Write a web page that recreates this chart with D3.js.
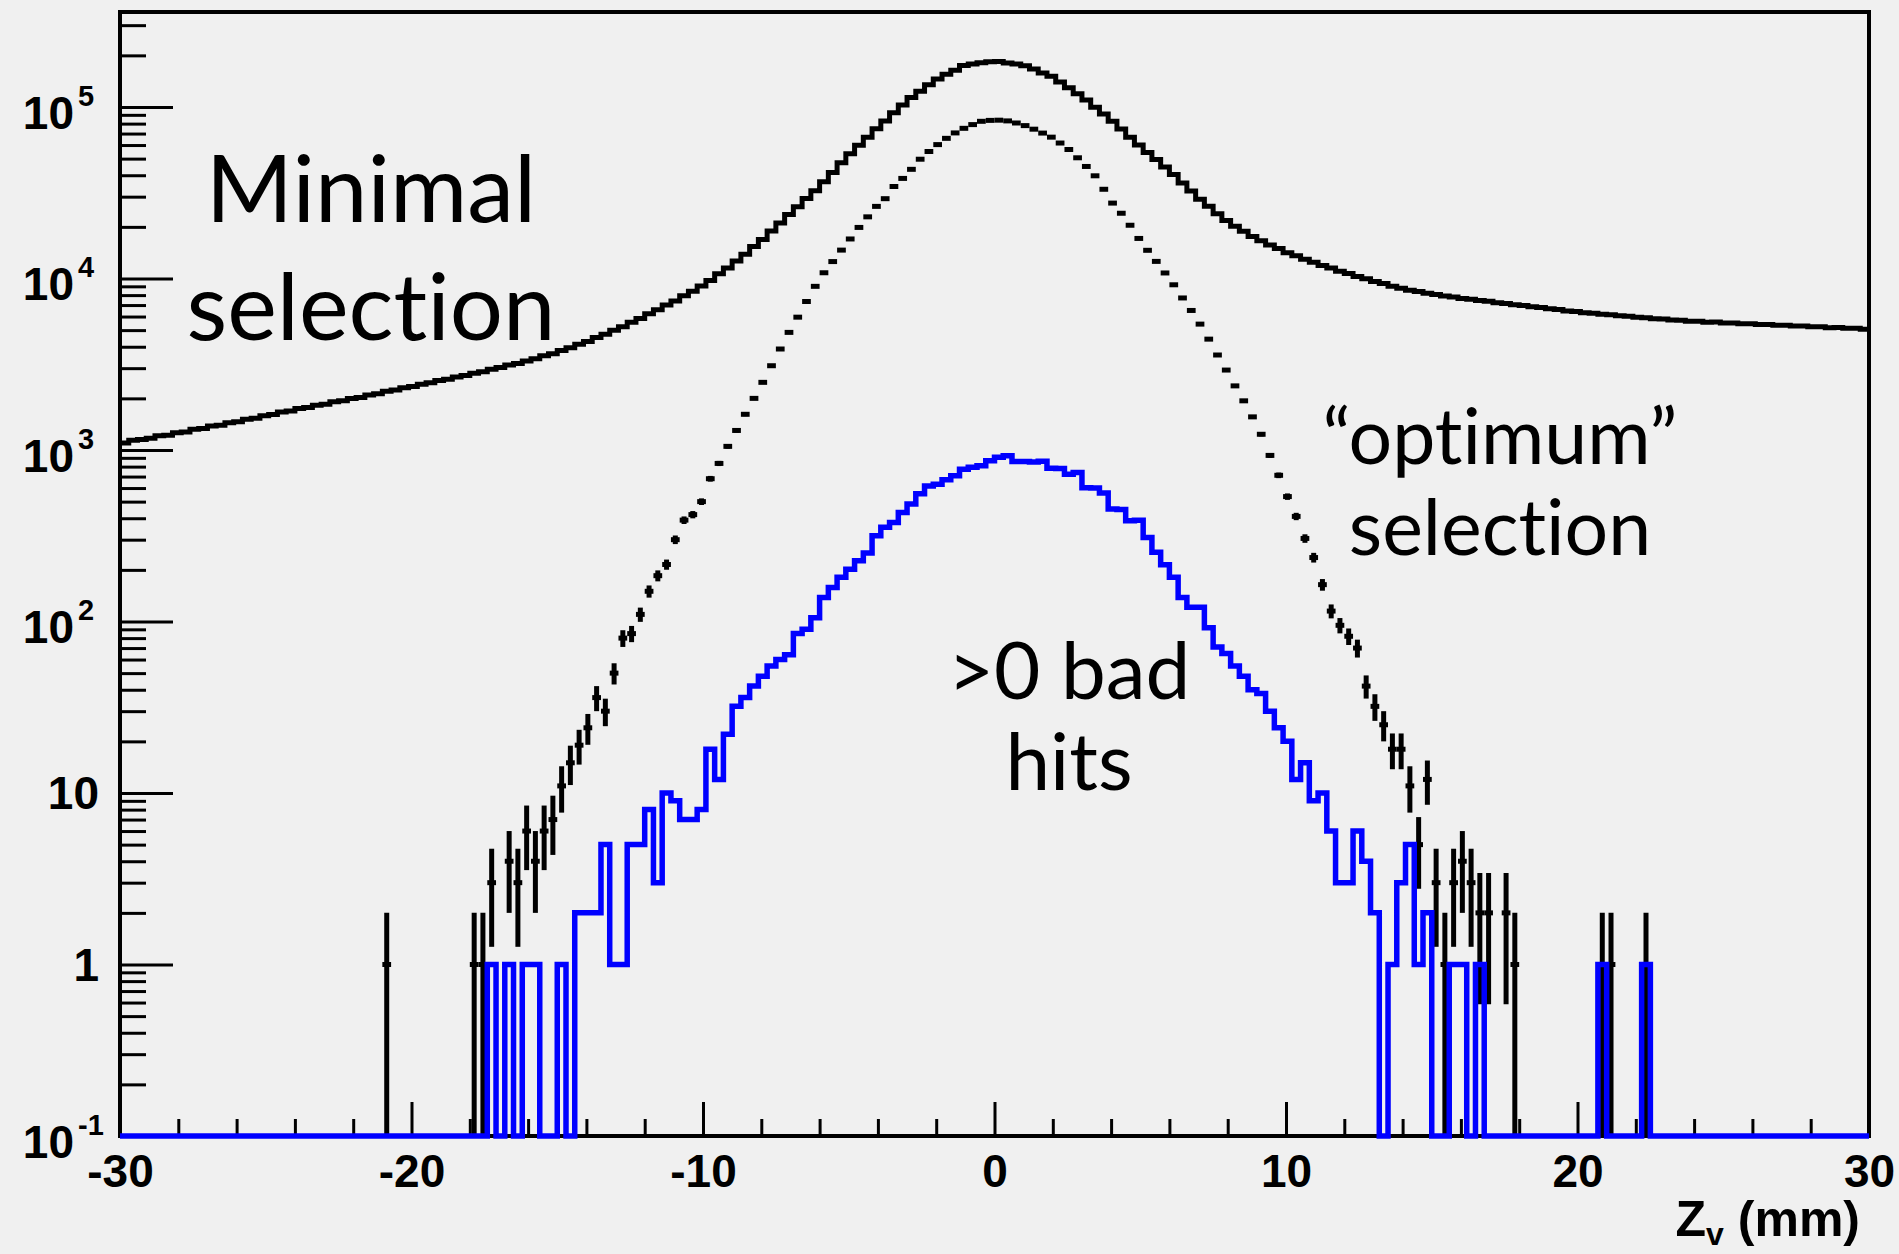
<!DOCTYPE html>
<html>
<head>
<meta charset="utf-8">
<script src="https://cdn.jsdelivr.net/npm/d3@7"></script>
<style>
  html, body { margin: 0; padding: 0; background: #f0f0f0; }
  svg { display: block; }
  .lbl { font-family: "Liberation Sans", Arial, sans-serif; font-weight: bold; fill: #000; }
  .note { font-family: Lato, "Open Sans", sans-serif; fill: #000; font-variant-ligatures: none; font-feature-settings: "liga" 0, "clig" 0; }
  .tick line { stroke: #000; stroke-width: 3; }
</style>
</head>
<body>
<script>
// histogram binning: 200 bins of 0.3 mm between -30 and 30
const zRange = [-30, 30];
const binWidth = 0.3;

// "Minimal selection" (black step line)
const minimalCounts = [
  1100, 1140, 1150, 1170, 1210, 1220, 1260, 1275, 1320, 1335,
  1380, 1395, 1440, 1460, 1510, 1530, 1585, 1610, 1665, 1690,
  1745, 1770, 1825, 1850, 1910, 1935, 1995, 2025, 2095, 2130,
  2200, 2235, 2310, 2345, 2420, 2465, 2540, 2585, 2665, 2715,
  2800, 2860, 2960, 3025, 3130, 3195, 3305, 3400, 3540, 3640,
  3800, 3940, 4130, 4285, 4525, 4730, 4985, 5235, 5560, 5850,
  6220, 6565, 6995, 7395, 7930, 8435, 9045, 9750, 10640, 11510,
  12650, 13870, 15350, 16860, 18930, 21040, 23610, 26170, 29260, 32430,
  36620, 41450, 47280, 53380, 59800, 66580, 74600, 82860, 92580, 102800,
  113550, 123400, 134750, 145800, 155000, 164000, 174300, 178000, 181200, 183700,
  184000, 180800, 178300, 174200, 166400, 158100, 151000, 139900, 129500, 119350,
  109750, 99700, 91080, 82550, 74380, 66620, 60050, 54250, 49400, 44700,
  40420, 36080, 32410, 28990, 26400, 23890, 21770, 20140, 18870, 17550,
  16580, 15690, 14950, 14150, 13590, 12940, 12430, 11890, 11510, 11020,
  10680, 10260, 9970, 9590, 9340, 9010, 8780, 8540, 8400, 8195,
  8070, 7905, 7795, 7640, 7565, 7430, 7360, 7230, 7160, 7030,
  6965, 6840, 6775, 6655, 6590, 6470, 6410, 6315, 6280, 6185,
  6150, 6060, 6025, 5935, 5910, 5830, 5810, 5735, 5710, 5630,
  5625, 5565, 5570, 5505, 5510, 5450, 5455, 5390, 5400, 5335,
  5345, 5280, 5290, 5225, 5235, 5170, 5180, 5120, 5125, 5065
];

// "optimum" selection (black points with error bars)
const optimumCounts = [
  0, 0, 0, 0, 0, 0, 0, 0, 0, 0,
  0, 0, 0, 0, 0, 0, 0, 0, 0, 0,
  0, 0, 0, 0, 0, 0, 0, 0, 0, 0,
  1, 0, 0, 0, 0, 0, 0, 0, 0, 0,
  1, 1, 3, 0, 4, 3, 6, 4, 6, 7,
  11, 15, 19, 24, 36, 30, 50, 80, 85, 110,
  150, 185, 215, 300, 390, 420, 500, 680, 835, 1050,
  1300, 1615, 2000, 2480, 3100, 3880, 4850, 5950, 7340, 9000,
  10800, 12550, 14640, 17000, 19850, 22880, 26330, 29200, 34400, 38330,
  43300, 49600, 55000, 60350, 65650, 70600, 75100, 78950, 82520, 83540,
  83770, 82970, 80660, 77880, 74240, 70450, 66700, 61640, 56510, 50560,
  45000, 39700, 33130, 27520, 24010, 20440, 17120, 14600, 12580, 10770,
  9190, 7700, 6510, 5420, 4430, 3580, 2925, 2365, 1935, 1560,
  1235, 930, 712, 535, 410, 305, 236, 164, 115, 95,
  82, 70, 42, 32, 25, 18, 18, 11, 5, 12,
  3, 1, 3, 4, 3, 2, 2, 0, 2, 1,
  0, 0, 0, 0, 0, 0, 0, 0, 0, 1,
  1, 0, 0, 0, 1, 0, 0, 0, 0, 0,
  0, 0, 0, 0, 0, 0, 0, 0, 0, 0,
  0, 0, 0, 0, 0, 0, 0, 0, 0, 0
];

// ">0 bad hits" (blue step line)
const badHitCounts = [
  0, 0, 0, 0, 0, 0, 0, 0, 0, 0,
  0, 0, 0, 0, 0, 0, 0, 0, 0, 0,
  0, 0, 0, 0, 0, 0, 0, 0, 0, 0,
  0, 0, 0, 0, 0, 0, 0, 0, 0, 0,
  0, 0, 1, 0, 1, 0, 1, 1, 0, 0,
  1, 0, 2, 2, 2, 5, 1, 1, 5, 5,
  8, 3, 10, 9, 7, 7, 8, 18, 12, 22,
  32, 36, 42, 48, 55, 60, 64, 85, 90, 105,
  138, 158, 181, 202, 226, 251, 316, 354, 378, 432,
  484, 556, 617, 631, 670, 708, 773, 794, 809, 865,
  906, 925, 857, 857, 850, 860, 783, 780, 723, 740,
  603, 600, 562, 453, 450, 387, 390, 309, 253, 214,
  181, 138, 121, 121, 92, 71, 65, 55, 48, 40,
  38, 30, 24, 20, 12, 15, 9, 10, 6, 3,
  3, 6, 4, 2, 0, 1, 3, 5, 1, 2,
  0, 0, 1, 1, 0, 1, 0, 0, 0, 0,
  0, 0, 0, 0, 0, 0, 0, 0, 0, 1,
  0, 0, 0, 0, 1, 0, 0, 0, 0, 0,
  0, 0, 0, 0, 0, 0, 0, 0, 0, 0,
  0, 0, 0, 0, 0, 0, 0, 0, 0, 0
];

// axes
const xTickValues = [-30, -20, -10, 0, 10, 20, 30];
const xMinorStep = 2;
const yDecades = [-1, 0, 1, 2, 3, 4, 5];
const yTickLabels = [["10", "-1"], ["1", ""], ["10", ""], ["10", "2"], ["10", "3"], ["10", "4"], ["10", "5"]];
const yMin = 0.1, yMax = 3.58e5;

var w = 1899;
var h = 1254;
const frame = {left: 120, right: 1869, top: 12, bottom: 1136};

const svg = d3.select("body").append("svg")
    .attr("width", w)
    .attr("height", h);

svg.append("rect").attr("width", w).attr("height", h).attr("fill", "#f0f0f0");

const x = d3.scaleLinear().domain(zRange).range([frame.left, frame.right]);
const y = d3.scaleLog().domain([yMin, yMax]).range([frame.bottom, frame.top]);

// frame
svg.append("rect")
    .attr("x", frame.left).attr("y", frame.top)
    .attr("width", frame.right - frame.left)
    .attr("height", frame.bottom - frame.top)
    .attr("fill", "none").attr("stroke", "#000").attr("stroke-width", 4);

// x axis ticks (inward)
const xMajor = svg.append("g")
    .attr("transform", "translate(0," + frame.bottom + ")")
    .call(d3.axisBottom(x).tickValues(xTickValues).tickSize(-34).tickPadding(18)
        .tickFormat(d => String(d)));
xMajor.select(".domain").remove();
xMajor.selectAll("text").attr("class", "lbl").style("font-size", "46px");

const xMinorValues = d3.range(zRange[0], zRange[1] + 0.001, xMinorStep).filter(v => v % 10 !== 0);
const xMinor = svg.append("g")
    .attr("transform", "translate(0," + frame.bottom + ")")
    .call(d3.axisBottom(x).tickValues(xMinorValues).tickSize(-17).tickFormat(""));
xMinor.select(".domain").remove();

// y axis ticks (inward)
const yMajorValues = yDecades.map(k => Math.pow(10, k));
const yMinorValues = [];
yDecades.forEach(k => {
  for (let m = 2; m <= 9; m++) {
    const v = m * Math.pow(10, k);
    if (v <= yMax) yMinorValues.push(v);
  }
});

const yMajor = svg.append("g")
    .attr("transform", "translate(" + frame.left + ",0)")
    .call(d3.axisLeft(y).tickValues(yMajorValues).tickSize(-53).tickFormat(""));
yMajor.select(".domain").remove();
const yMinor = svg.append("g")
    .attr("transform", "translate(" + frame.left + ",0)")
    .call(d3.axisLeft(y).tickValues(yMinorValues).tickSize(-26).tickFormat(""));
yMinor.select(".domain").remove();

// y labels, 10 with superscript exponent
yDecades.forEach((k, i) => {
  const v = Math.pow(10, k);
  const base = yTickLabels[i][0], expo = yTickLabels[i][1];
  if (expo === "") {
    svg.append("text").attr("class", "lbl")
        .attr("x", 99).attr("y", y(v) + 16.5)
        .attr("text-anchor", "end")
        .style("font-size", "46px")
        .text(base);
  } else {
    svg.append("text").attr("class", "lbl")
        .attr("x", 74).attr("y", y(v) + 22)
        .attr("text-anchor", "end")
        .style("font-size", "46px")
        .text(base);
    svg.append("text").attr("class", "lbl")
        .attr("x", 78).attr("y", y(v) - 1)
        .style("font-size", "29px")
        .text(expo);
  }
});

// axis title
const title = svg.append("text").attr("class", "lbl")
    .attr("x", 1860).attr("y", 1236)
    .attr("text-anchor", "end")
    .style("font-size", "50px");
title.append("tspan").text("Z");
title.append("tspan").attr("dy", 9).style("font-size", "32px").text("v");
title.append("tspan").attr("dy", -9).text(" (mm)");

// histograms
function stepPoints(counts) {
  const pts = [];
  counts.forEach((c, i) => {
    const lo = zRange[0] + i * binWidth, hi = lo + binWidth;
    const yy = c > 0 ? y(c) : y(yMin);
    pts.push([x(lo), yy], [x(hi), yy]);
  });
  return pts;
}
const line = d3.line();

svg.append("path")
    .attr("d", line(stepPoints(minimalCounts)))
    .attr("fill", "none").attr("stroke", "#000").attr("stroke-width", 5)
    .attr("stroke-linejoin", "miter");

// optimum: markers + error bars
const opt = svg.append("g").attr("stroke", "#000").attr("stroke-width", 5);
optimumCounts.forEach((c, i) => {
  if (c <= 0) return;
  const lo = zRange[0] + i * binWidth, hi = lo + binWidth, mid = lo + binWidth / 2;
  const err = Math.sqrt(c);
  const yLow = (c - err) > yMin ? y(c - err) : y(yMin);
  opt.append("line")
      .attr("x1", x(mid)).attr("x2", x(mid))
      .attr("y1", yLow).attr("y2", y(c + err));
  opt.append("line")
      .attr("x1", x(lo)).attr("x2", x(hi))
      .attr("y1", y(c)).attr("y2", y(c));
});

svg.append("path")
    .attr("d", line(stepPoints(badHitCounts)))
    .attr("fill", "none").attr("stroke", "#0000ff").attr("stroke-width", 5.5)
    .attr("stroke-linejoin", "miter");

// annotations
function note(lines, cx, baselines, size) {
  lines.forEach((t, i) => {
    svg.append("text").attr("class", "note")
        .attr("x", cx).attr("y", baselines[i])
        .attr("text-anchor", "middle")
        .style("font-size", size + "px")
        .text(t);
  });
}
note(["Minimal", "selection"], 371, [222, 340], 94);
note(["\u201Coptimum\u201D", "selection"], 1500, [464, 555], 77);
note([">0 bad", "hits"], 1069, [699, 790], 80);
</script>
</body>
</html>
